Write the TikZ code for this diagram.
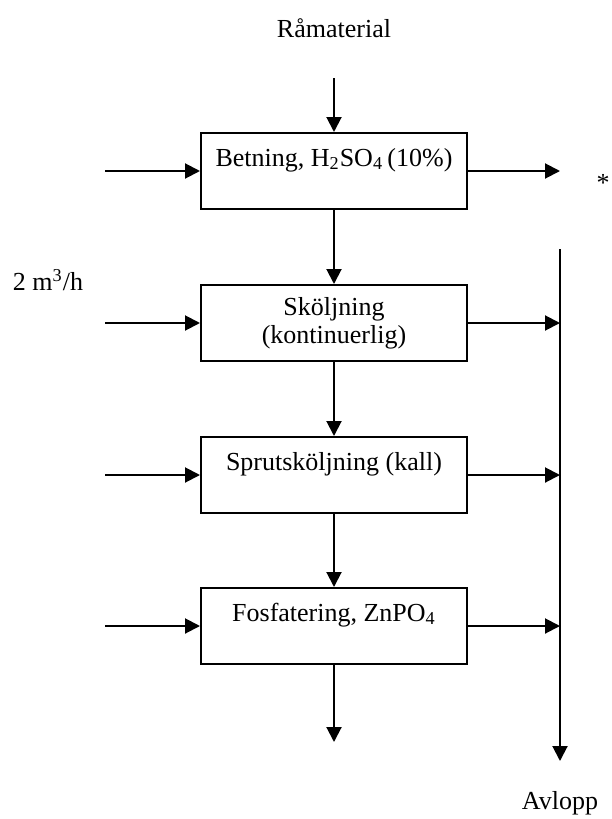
\documentclass[tikz,border=0pt]{standalone}
\usepackage{fontspec}
\setmainfont{Liberation Serif}
\usetikzlibrary{arrows.meta,positioning}

\begin{document}
\begin{tikzpicture}[
    x=0.5pt,
    y=-0.5pt,
    >={Triangle[length=7.5pt,width=7.5pt]},
    every node/.style={font=\fontsize{13}{14}\selectfont},
    tagtext/.style={inner sep=0pt},
    procbox/.style={draw, line width=1pt, minimum width=133pt, minimum height=38pt, inner sep=0pt, align=center},
    flow/.style={->, line width=1pt}
  ]
  \useasboundingbox (0,0) rectangle (611,819);

  %
  \node[tagtext] (ramat) at (334,28) {Råmaterial};
  \coordinate (ramatend) at (334,78);

  \node[procbox] (betning) at (334,171) {Betning, H\textsubscript{2}SO\textsubscript{4}\,(10\%)\\\mbox{}};
  \node[procbox] (skolj) at (334,323) {Sköljning\\(kontinuerlig)};
  \node[procbox] (spruts) at (334,475) {Sprutsköljning (kall)\\\mbox{}};
  \node[procbox] (fosfat) at (334,626) {Fosfatering, ZnPO\textsubscript{4}\\\mbox{}};

  \draw[flow] (ramatend) -- (betning);
  \draw[flow] (betning) -- (skolj);
  \draw[flow] (skolj) -- (spruts);
  \draw[flow] (spruts) -- (fosfat);
  \coordinate (produkt) at (334,742);
  \draw[flow] (fosfat) -- (produkt);

  %
  \coordinate (in1) at (105,171);
  \coordinate (in2) at (105,323);
  \coordinate (in3) at (105,475);
  \coordinate (in4) at (105,626);
  \draw[flow] (in1) -- (betning.west);
  \draw[flow] (in2) -- (skolj.west);
  \draw[flow] (in3) -- (spruts.west);
  \draw[flow] (in4) -- (fosfat.west);
  \node[tagtext] (flode) at (48,280) {2 m\textsuperscript{3}/h};

  %
  \coordinate (betut) at (560,171);
  \draw[flow] (betning.east) -- (betut);
  \node[tagtext] (stjarna) at (603,183) {*};

  \coordinate (avtop) at (560,249);
  \coordinate (avbot) at (560,761);
  \draw[flow] (avtop) -- (avbot);
  \draw[flow] (skolj.east) -- (skolj.east -| avtop);
  \draw[flow] (spruts.east) -- (spruts.east -| avtop);
  \draw[flow] (fosfat.east) -- (fosfat.east -| avtop);
  \node[tagtext] (avlopp) at (560,803) {Avlopp};
\end{tikzpicture}
\end{document}
